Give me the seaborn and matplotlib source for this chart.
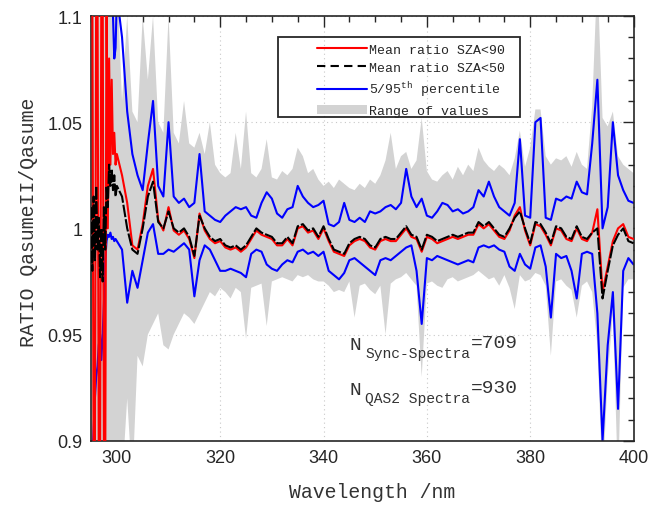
import numpy as np
import pandas as pd
import matplotlib
matplotlib.use("Agg")
import matplotlib.pyplot as plt
import seaborn as sns
from matplotlib.lines import Line2D
from matplotlib.patches import Patch, Rectangle
from matplotlib.ticker import MultipleLocator, FuncFormatter

# wavelength grid: 0.25 nm in the noisy edge below 300 nm, 1 nm after that
wl_edge = [295.0 + 0.25 * i for i in range(20)]
wl_main = list(range(300, 401))
wavelength = np.array(wl_edge + wl_main, dtype=float)

# all series below are deviations from a ratio of 1, in per mille
mean90_edge = [120, 120, -120, -120, 120, 120, -120, -120, 120, 120,
               -120, -120, 120, 0, 80, 30, 70, 35, 45, 30]
mean90_main = [35, 25, 12, -8, -10, 2, 20, 28, 4, -1,
               10, -1, -3, -1, -5, -14, 7, -1, -5, -7,
               -6, -9, -10, -9, -11, -9, -5, -1, -3, -4,
               -5, -8, -8, -5, -8, 0, 1, -2, -1, -5,
               0, -6, -11, -12, -13, -8, -6, -5, -6, -9,
               -10, -6, -5, -6, -6, -3, 0, -4, -5, -11,
               -4, -5, -7, -6, -5, -4, -5, -4, -3, -3,
               2, 0, 2, -1, -4, -5, -1, 6, 10, -1,
               -8, 2, 1, -3, -8, 0, -1, -5, -6, 0,
               -5, -6, -2, 9, -30, -18, -6, 0, 2, -4,
               -5]

mean50_edge = [10, -20, 15, -15, 20, -10, 5, -23, 0, -25,
               10, -10, 20, 10, 30, 20, 28, 18, 25, 15]
mean50_main = [20, 15, 0, -10, -12, 0, 15, 22, 3, 0,
               8, 0, -2, 0, -4, -13, 6, 0, -4, -6,
               -5, -8, -9, -8, -10, -8, -4, 0, -2, -3,
               -4, -7, -7, -4, -7, 1, 2, -1, 0, -4,
               1, -5, -10, -11, -12, -7, -5, -4, -5, -8,
               -9, -5, -4, -5, -5, -2, 1, -3, -4, -10,
               -3, -4, -6, -5, -4, -3, -4, -3, -2, -2,
               3, 1, 3, 0, -3, -4, 0, 5, 8, 0,
               -7, 3, 2, -2, -7, 1, 0, -4, -5, 1,
               -4, -5, -2, 0, -33, -20, -8, -3, 0, -6,
               -7]

p95_edge = [150, 150, 150, 150, 150, 150, 150, 150, 150, 150,
            150, 150, 150, 150, 150, 150, 120, 100, 80, 85]
p95_main = [110, 90, 55, 35, 25, 18, 40, 60, 20, 15,
            50, 15, 12, 14, 10, 12, 35, 8, 6, 4,
            3, 6, 8, 10, 9, 10, 6, 5, 12, 17,
            14, 7, 5, 9, 10, 20, 15, 12, 10, 11,
            13, 2, 1, 3, 12, 4, 3, 5, 3, 8,
            7, 8, 10, 11, 9, 12, 28, 15, 10, 14,
            6, 5, 8, 12, 11, 8, 9, 7, 8, 10,
            18, 15, 22, 15, 10, 8, 6, 12, 42, 6,
            5, 50, 52, 5, 4, 14, 13, 15, 14, 22,
            17, 16, 40, 70, 0, 10, 50, 25, 18, 13,
            12]

p5_edge = [-130, -110, -95, -80, -70, -65, -55, -50, -62, -50,
           -35, -15, -6, -3, -4, -2, -5, -4, -6, -5]
p5_main = [-6, -10, -35, -20, -28, -15, -2, 2, -12, -12,
           -10, -11, -9, -7, -10, -32, -15, -8, -10, -15,
           -20, -20, -19, -20, -21, -23, -12, -10, -11, -17,
           -19, -20, -17, -15, -16, -11, -10, -12, -11, -13,
           -11, -20, -22, -24, -21, -15, -14, -16, -18, -20,
           -22, -15, -14, -15, -13, -11, -9, -8, -20, -45,
           -14, -15, -13, -14, -15, -16, -17, -16, -15, -16,
           -9, -8, -9, -8, -10, -11, -18, -20, -12, -17,
           -19, -9, -8, -18, -42, -12, -14, -13, -20, -33,
           -12, -11, -12, -40, -100, -55, -30, -85, -20, -14,
           -17]

max_edge = [150] * 20
max_main = [120, 60, 100, 55, 50, 100, 70, 100, 50, 45,
            100, 45, 40, 60, 40, 38, 45, 35, 50, 30,
            26, 24, 26, 45, 28, 55, 26, 24, 28, 42,
            24, 23, 27, 25, 28, 38, 34, 26, 28, 23,
            20, 22, 19, 23, 21, 19, 18, 21, 19, 23,
            21, 25, 32, 45, 28, 34, 36, 28, 32, 52,
            27, 23, 22, 25, 27, 23, 29, 25, 30, 27,
            38, 32, 29, 27, 30, 28, 25, 33, 46, 29,
            38, 56, 56, 34, 30, 33, 32, 34, 29, 36,
            30, 28, 58, 120, 52, 48, 55, 34, 30, 28,
            26]

min_edge = [-150] * 20
min_main = [-120, -120, -80, -120, -60, -65, -50, -45, -40, -55,
            -57, -50, -45, -40, -42, -45, -40, -35, -30, -32,
            -28, -30, -33, -28, -30, -52, -28, -27, -26, -46,
            -25, -24, -23, -24, -25, -22, -23, -22, -24, -25,
            -25, -27, -30, -29, -30, -25, -42, -27, -26, -29,
            -31, -27, -50, -26, -24, -23, -21, -24, -27, -70,
            -26, -25, -27, -28, -24, -23, -25, -24, -23, -22,
            -20, -22, -24, -23, -27, -22, -28, -38, -22, -25,
            -24, -21, -22, -27, -60, -25, -24, -27, -29, -42,
            -27, -25, -30, -55, -120, -70, -40, -120, -28, -24,
            -24]


def ratio(edge, main):
    return 1.0 + np.array(edge + main, dtype=float) / 1000.0


df = pd.DataFrame({
    "wl": wavelength,
    "mean90": ratio(mean90_edge, mean90_main),
    "mean50": ratio(mean50_edge, mean50_main),
    "p95": ratio(p95_edge, p95_main),
    "p5": ratio(p5_edge, p5_main),
    "vmax": ratio(max_edge, max_main),
    "vmin": ratio(min_edge, min_main),
})

sns.set_style("white")
plt.rcParams["font.family"] = ["Liberation Sans", "DejaVu Sans"]
plt.rcParams["mathtext.fontset"] = "custom"
plt.rcParams["mathtext.rm"] = "Liberation Mono"
plt.rcParams["mathtext.it"] = "Liberation Mono"
mono = "Liberation Mono"
lw = 1.5

fig = plt.figure(figsize=(6.53, 5.06), dpi=100)
ax = fig.add_axes([0.1394, 0.127, 0.8308, 0.8394])

ax.fill_between(df["wl"], df["vmin"], df["vmax"], color="#d3d3d3",
                linewidth=0, zorder=1)
sns.lineplot(data=df, x="wl", y="p95", ax=ax, color="#0000ff",
             linewidth=lw, estimator=None, zorder=2)
sns.lineplot(data=df, x="wl", y="p5", ax=ax, color="#0000ff",
             linewidth=lw, estimator=None, zorder=2)
sns.lineplot(data=df, x="wl", y="mean90", ax=ax, color="#ff0000",
             linewidth=lw, estimator=None, zorder=3)
sns.lineplot(data=df, x="wl", y="mean50", ax=ax, color="black",
             linewidth=lw, linestyle=(0, (6, 1)), estimator=None, zorder=4)

ax.set_xlim(295, 400)
ax.set_ylim(0.9, 1.1)
ax.xaxis.set_major_locator(MultipleLocator(20))
ax.xaxis.set_minor_locator(MultipleLocator(5))
ax.yaxis.set_major_locator(MultipleLocator(0.05))
ax.yaxis.set_minor_locator(MultipleLocator(0.01))
ax.yaxis.set_major_formatter(FuncFormatter(lambda v, p: "%g" % round(v, 2)))
ax.tick_params(which="both", direction="in", top=True, right=True,
               width=1.0, color="#262626", labelsize=13)
ax.tick_params(which="major", length=8, pad=6)
ax.tick_params(which="minor", length=4.5)
ax.grid(True, which="major", linestyle=(0, (1, 3)), color="#c8c8c8",
        linewidth=0.8)
ax.set_axisbelow(True)
for s in ax.spines.values():
    s.set_linewidth(1.2)
    s.set_color("#262626")

ax.set_xlabel("Wavelength /nm", family=mono, fontsize=14.3, color="#333333")
ax.set_ylabel("RATIO QasumeII/Qasume", family=mono, fontsize=14.3,
              color="#333333")
ax.xaxis.set_label_coords(0.518, -0.098)
ax.yaxis.set_label_coords(-0.097, 0.517)

# legend, frame drawn separately
handles = [
    Line2D([], [], color="#ff0000", linewidth=lw),
    Line2D([], [], color="black", linewidth=lw, linestyle=(0, (4, 2.5))),
    Line2D([], [], color="#0000ff", linewidth=lw),
    Patch(facecolor="#d3d3d3", edgecolor="none"),
]
labels = ["Mean ratio SZA<90", "Mean ratio SZA<50",
          "5/95$^{\\mathrm{th}}$ percentile", "Range of values"]
ax.legend(handles, labels, loc="upper left", bbox_to_anchor=(0.411, 0.942),
          frameon=False, prop={"family": mono, "size": 9.5},
          handlelength=3.8, handletextpad=0.15, labelspacing=0.45,
          borderpad=0.2, borderaxespad=0)
ax.add_patch(Rectangle((0.345, 0.762), 0.446, 0.189, transform=ax.transAxes,
                       fill=False, edgecolor="#262626", linewidth=1.3,
                       zorder=5))

# spectra counts
ax.text(344.95, 0.9432, "N", family=mono, fontsize=14, color="#333333")
ax.text(348.05, 0.9394, "Sync-Spectra", family=mono, fontsize=10.5,
        color="#333333")
ax.text(368.5, 0.9440, "=709", family=mono, fontsize=14, color="#333333")
ax.text(344.95, 0.9220, "N", family=mono, fontsize=14, color="#333333")
ax.text(348.05, 0.9182, "QAS2 Spectra", family=mono, fontsize=10.5,
        color="#333333")
ax.text(368.5, 0.9228, "=930", family=mono, fontsize=14, color="#333333")

fig.savefig("out.png", dpi=100)
